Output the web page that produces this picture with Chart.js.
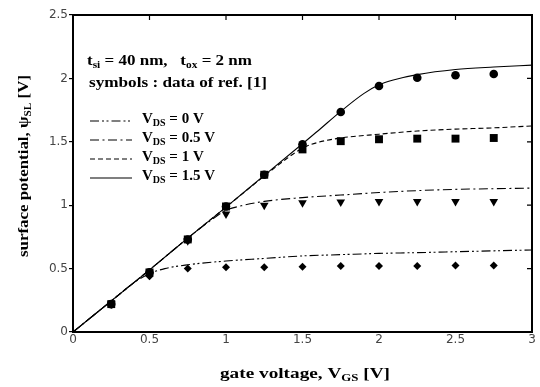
<!DOCTYPE html>
<html>
<head>
<meta charset="utf-8">
<script src="https://cdn.jsdelivr.net/npm/chart.js@4.4.1/dist/chart.umd.min.js"></script>
<style>
html,body{margin:0;padding:0;background:#fff;}
#wrap{position:relative;width:540px;height:387px;}
</style>
</head>
<body>
<div id="wrap"><canvas id="c" width="540" height="387"></canvas></div>
<script>
// ---- data ----
const xTicks = [0, 0.5, 1, 1.5, 2, 2.5, 3];
const yTicks = [0, 0.5, 1, 1.5, 2, 2.5];

// symbols : data of ref. [1]
const vgsSym = [0.25, 0.5, 0.75, 1, 1.25, 1.5, 1.75, 2, 2.25, 2.5, 2.75];
const sym0   = [0.22, 0.44, 0.50, 0.51, 0.51, 0.515, 0.52, 0.52, 0.52, 0.525, 0.525];
const sym05  = [0.22, 0.45, 0.72, 0.93, 1.00, 1.02, 1.025, 1.03, 1.03, 1.03, 1.03];
const sym1   = [0.22, 0.47, 0.73, 0.99, 1.24, 1.44, 1.505, 1.52, 1.525, 1.525, 1.53];
const sym15  = [0.22, 0.47, 0.73, 0.99, 1.24, 1.48, 1.735, 1.94, 2.005, 2.025, 2.035];

// model curves
const vgsL0  = [0, 0.25, 0.4, 0.5, 0.6, 0.75, 1.0, 1.25, 1.5, 1.75, 2.0, 2.25, 2.5, 2.75, 3.0];
const line0  = [0, 0.245, 0.39, 0.46, 0.50, 0.53, 0.56, 0.58, 0.60, 0.61, 0.62, 0.626, 0.633, 0.64, 0.647];
const vgsL05 = [0, 0.25, 0.5, 0.75, 0.9, 1.0, 1.1, 1.25, 1.5, 1.75, 2.0, 2.25, 2.5, 2.75, 3.0];
const line05 = [0, 0.245, 0.49, 0.74, 0.88, 0.96, 0.995, 1.03, 1.06, 1.08, 1.10, 1.115, 1.125, 1.13, 1.135];
const vgsL1  = [0, 0.25, 0.5, 0.75, 1.0, 1.25, 1.4, 1.5, 1.6, 1.75, 2.0, 2.25, 2.5, 2.75, 3.0];
const line1  = [0, 0.245, 0.49, 0.74, 0.985, 1.23, 1.37, 1.45, 1.495, 1.53, 1.56, 1.585, 1.60, 1.61, 1.625];
const vgsL15 = [0, 0.25, 0.5, 0.75, 1.0, 1.25, 1.5, 1.6, 1.75, 1.9, 2.0, 2.1, 2.25, 2.5, 2.75, 3.0];
const line15 = [0, 0.245, 0.49, 0.74, 0.985, 1.235, 1.485, 1.585, 1.74, 1.88, 1.95, 1.99, 2.03, 2.07, 2.09, 2.105];

const legendLabels = ['0', '0.5', '1', '1.5'];
const dashes = [[9, 3, 2, 2.5, 2, 3], [9, 3.5, 2, 3.5], [5, 3], []];

const pts = (xs, ys) => xs.map((x, i) => ({x: x, y: ys[i]}));
const lineDS = (xs, ys, dash) => ({
  type: 'line', data: pts(xs, ys), borderColor: '#000', borderWidth: 1.1,
  borderDash: dash, pointRadius: 0, fill: false, cubicInterpolationMode: 'monotone', order: 2
});
const symDS = (ys, style, r, rot) => ({
  type: 'scatter', data: pts(vgsSym, ys), showLine: false, pointStyle: style,
  pointRadius: r, pointRotation: rot || 0, backgroundColor: '#000', borderColor: '#000',
  borderWidth: 0, order: 1
});

const serif = '"Liberation Serif", "Times New Roman", serif';
const FS = 15;

function richWidth(ctx, parts, size) {
  let w = 0;
  for (const [t, sub] of parts) {
    ctx.font = 'bold ' + (sub ? Math.round(size * 0.68) : size) + 'px ' + serif;
    w += ctx.measureText(t).width;
  }
  return w;
}
// draw text with subscripts starting at x (left); optional target width stretches horizontally
function drawRich(ctx, x, y, parts, size, targetW) {
  const nat = richWidth(ctx, parts, size);
  const sx = targetW ? targetW / nat : 1;
  ctx.save();
  ctx.translate(x, y);
  ctx.scale(sx, 1);
  ctx.textBaseline = 'alphabetic';
  ctx.textAlign = 'left';
  let cx = 0;
  for (const [t, sub] of parts) {
    ctx.font = 'bold ' + (sub ? Math.round(size * 0.68) : size) + 'px ' + serif;
    ctx.fillText(t, cx, sub ? size * 0.2 : 0);
    cx += ctx.measureText(t).width;
  }
  ctx.restore();
}

const decor = {
  id: 'decor',
  afterDraw(chart) {
    const ctx = chart.ctx, a = chart.chartArea;
    const xs = chart.scales.x, ys = chart.scales.y;
    ctx.save();
    ctx.strokeStyle = '#000';
    ctx.fillStyle = '#000';
    // frame top/right
    ctx.lineWidth = 2;
    ctx.beginPath();
    ctx.moveTo(a.left - 1, a.top); ctx.lineTo(a.right, a.top); ctx.lineTo(a.right, a.bottom + 1);
    ctx.stroke();
    // inward ticks top / right
    ctx.lineWidth = 1.2;
    ctx.beginPath();
    for (const v of xTicks.slice(1, -1)) {
      const px = xs.getPixelForValue(v);
      ctx.moveTo(px, a.top); ctx.lineTo(px, a.top + 5);
    }
    for (const v of yTicks.slice(1, -1)) {
      const py = ys.getPixelForValue(v);
      ctx.moveTo(a.right, py); ctx.lineTo(a.right - 5, py);
    }
    ctx.stroke();

    // annotations
    drawRich(ctx, 87, 65, [['t', 0], ['si', 1], [' = 40 nm,   t', 0], ['ox', 1], [' = 2 nm', 0]], FS, 165);
    drawRich(ctx, 89, 87, [['symbols : data of ref. [1]', 0]], FS, 178);

    // legend
    const ly = [121, 140, 159, 178];
    for (let i = 0; i < 4; i++) {
      const y = ly[i];
      ctx.lineWidth = 1.1;
      ctx.setLineDash(dashes[i]);
      ctx.beginPath(); ctx.moveTo(90, y); ctx.lineTo(132, y); ctx.stroke();
      ctx.setLineDash([]);
      drawRich(ctx, 142, y + 2, [['V', 0], ['DS', 1], [' = ' + legendLabels[i] + ' V', 0]], FS);
    }

    // x axis title
    const xt = [['gate voltage, V', 0], ['GS', 1], [' [V]', 0]];
    drawRich(ctx, 220, 378, xt, FS, 170);
    // y axis title
    ctx.save();
    ctx.translate(28, 257);
    ctx.rotate(-Math.PI / 2);
    const yt = [['surface potential, \u03C8', 0], ['SL', 1], [' [V]', 0]];
    drawRich(ctx, 0, 0, yt, FS, 182);
    ctx.restore();
    ctx.restore();
  }
};

new Chart(document.getElementById('c'), {
  type: 'scatter',
  data: {
    datasets: [
      lineDS(vgsL0, line0, dashes[0]),
      lineDS(vgsL05, line05, dashes[1]),
      lineDS(vgsL1, line1, dashes[2]),
      lineDS(vgsL15, line15, dashes[3]),
      symDS(sym0, 'rectRot', 4),
      symDS(sym05, 'triangle', 5, 180),
      symDS(sym1, 'rect', 5.6),
      symDS(sym15, 'circle', 4.3)
    ]
  },
  options: {
    responsive: false,
    animation: false,
    devicePixelRatio: 1,
    layout: {padding: {top: 15, right: 8, left: 0, bottom: 0}},
    plugins: {legend: {display: false}, tooltip: {enabled: false}, title: {display: false}},
    scales: {
      x: {
        type: 'linear', min: 0, max: 3,
        afterBuildTicks: s => { s.ticks = xTicks.map(v => ({value: v})); },
        afterFit: s => { s.height = 55; },
        grid: {display: false, drawTicks: false},
        border: {display: true, color: '#000', width: 2},
        ticks: {color: '#444', font: {family: '"DejaVu Sans"', size: 12}, padding: 1, maxRotation: 0,
                callback: v => String(v)}
      },
      y: {
        type: 'linear', min: 0, max: 2.5,
        afterBuildTicks: s => { s.ticks = yTicks.map(v => ({value: v})); },
        afterFit: s => { s.width = 73; },
        grid: {display: true, drawOnChartArea: false, drawTicks: true, tickLength: 4, color: '#000', lineWidth: 1.2},
        border: {display: true, color: '#000', width: 2},
        ticks: {color: '#444', font: {family: '"DejaVu Sans"', size: 12}, padding: 1,
                callback: v => String(v)}
      }
    }
  },
  plugins: [decor]
});
</script>
</body>
</html>
